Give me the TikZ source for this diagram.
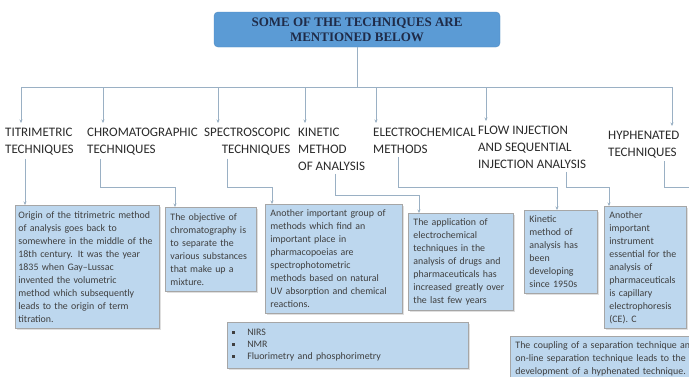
\documentclass[tikz,border=0pt]{standalone}
\usepackage{fontspec}
\setmainfont{Carlito}
\newfontfamily\titrefont{Liberation Serif}
\usetikzlibrary{arrows.meta,shadows}
\definecolor{bleuTitre}{HTML}{5B9BD5}
\definecolor{bleuBoite}{HTML}{BDD7EE}
\definecolor{bordBoite}{HTML}{A6A6A6}
\definecolor{trait}{HTML}{9AB0C4}
\definecolor{texteTitre}{HTML}{1F2B48}
\definecolor{texteGris}{HTML}{2A2A2A}
\begin{document}
\begin{tikzpicture}[x=1pt,y=-1pt]
			% Styles
			\tikzstyle{titre}=[draw=bleuTitre!90!black,fill=bleuTitre,rounded corners=4pt,text=texteTitre,font=\titrefont\bfseries\fontsize{13}{15}\selectfont,align=center,minimum width=286pt,minimum height=35pt,inner sep=0pt]
			\tikzstyle{etiquette}=[anchor=north west,inner sep=0pt,align=left,text=texteGris,font=\fontsize{13}{17}\selectfont]
			\tikzstyle{boite}=[anchor=north west,draw=bordBoite,fill=bleuBoite,line width=0.9pt,inner xsep=5pt,inner ysep=4pt,align=left,text=texteGris!90,font=\fontsize{9.9}{13}\selectfont,drop shadow={shadow xshift=1.2pt,shadow yshift=-1.2pt,opacity=.25}]
			\tikzstyle{lien}=[draw=trait,line width=0.9pt]
			\tikzstyle{fleche}=[lien,-{Stealth[length=3.5pt,width=3pt]}]
			% Niveaux (px)
			\def\Bus{87}
			\def\Coude{187}
			\def\CoudeB{195}
			% Cadre
			\useasboundingbox (0,0) rectangle (689,376);
			\fill[white] (0,0) rectangle (689,376);
			\clip (0,0) rectangle (689,376);
			% Titre
			\node[titre] (titre) at (357,29.5) {SOME OF THE TECHNIQUES ARE\\MENTIONED BELOW};
			% Etiquettes
			\node[etiquette] (tTitr) at (5,128) {TITRIMETRIC\\TECHNIQUES};
			\node[etiquette] (tChrom) at (87,128) {CHROMATOGRAPHIC\\TECHNIQUES};
			\node[etiquette,align=right] (tSpec) at (204,128) {SPECTROSCOPIC\\TECHNIQUES};
			\node[etiquette] (tKin) at (298,128) {KINETIC\\METHOD\\OF ANALYSIS};
			\node[etiquette] (tElec) at (373,128) {ELECTROCHEMICAL\\METHODS};
			\node[etiquette] (tFlow) at (478,126) {FLOW INJECTION\\AND SEQUENTIAL\\INJECTION ANALYSIS};
			\node[etiquette] (tHyph) at (608,131) {HYPHENATED\\TECHNIQUES};
			% Boites
			\node[boite,text width=138pt,inner xsep=3pt,minimum height=123pt] (dTitr) at (15,205) {Origin of the titrimetric method\\of analysis goes back to\\somewhere in the middle of the\\18th century. It was the year\\1835 when Gay–Lussac\\invented the volumetric\\method which subsequently\\leads to the origin of term\\titration.};
			\node[boite,text width=81pt,minimum height=84pt] (dChrom) at (165,207) {The objective of\\chromatography is\\to separate the\\various substances\\that make up a\\mixture.};
			\node[boite,text width=127pt,minimum height=109pt] (dSpec) at (265,204) {Another important group of\\methods which find an\\important place in\\pharmacopoeias are\\spectrophotometric\\methods based on natural\\UV absorption and chemical\\reactions.};
			\node[boite,text width=95pt,minimum height=97pt] (dKin) at (408,213) {The application of\\electrochemical\\techniques in the\\analysis of drugs and\\pharmaceuticals has\\increased greatly over\\the last few years};
			\node[boite,text width=63pt,minimum height=83pt] (dElec) at (524,210) {Kinetic\\method of\\analysis has\\been\\developing\\since 1950s};
			\node[boite,text width=72pt,minimum height=122pt] (dFlow) at (604,206) {Another\\important\\instrument\\essential for the\\analysis of\\pharmaceuticals\\is capillary\\electrophoresis\\(CE). C};
			\node[boite,text width=231pt,minimum height=46pt,font=\fontsize{9.9}{12}\selectfont] (dListe) at (227,322) {\rule[2.2pt]{2.8pt}{2.8pt}\hspace{12pt}NIRS\\\rule[2.2pt]{2.8pt}{2.8pt}\hspace{12pt}NMR\\\rule[2.2pt]{2.8pt}{2.8pt}\hspace{12pt}Fluorimetry and phosphorimetry};
			\node[boite,text width=200pt,inner ysep=5pt] (dHyph) at (510,336) {The coupling of a separation technique and\\on-line separation technique leads to the\\development of a hyphenated technique.};
			% Arcs du haut
			\coordinate (b1) at (21,\Bus);
			\coordinate (b2) at (103,\Bus);
			\coordinate (b3) at (218,\Bus);
			\coordinate (b4) at (305,\Bus);
			\coordinate (b5) at (376,\Bus);
			\coordinate (b6) at (486,\Bus);
			\coordinate (b7) at (672,\Bus);
			\draw[lien] (titre.south) -- (titre.south |- b1);
			\draw[lien] (b1) -- (b7);
			\foreach \b/\t in {b1/tTitr,b2/tChrom,b3/tSpec,b4/tKin,b5/tElec,b6/tFlow,b7/tHyph}
				\draw[fleche,shorten >=5pt] (\b) -- (\b |- \t.north);
			% Arcs du bas
			\coordinate (niv) at (0,\Coude);
			\coordinate (nivB) at (0,\CoudeB);
			\draw[fleche] ([xshift=20pt,yshift=-3pt]tTitr.south west) -- ([xshift=10pt]dTitr.north west);
			\foreach \t/\d/\xa/\xb/\n in {tChrom/dChrom/13/10/niv,tSpec/dSpec/23/7/niv,tKin/dKin/37/11/nivB,tElec/dElec/25/33/niv,tFlow/dFlow/88/5/niv}{
				\coordinate (dep) at ([xshift=\xa pt,yshift=-3pt]\t.south west);
				\coordinate (arr) at ([xshift=\xb pt]\d.north west);
				\draw[fleche] (dep) |- (arr |- \n) -- (arr);
			}
			\coordinate (depH) at ([xshift=56pt,yshift=-3pt]tHyph.south west);
			\coordinate (finH) at (695,\Coude);
			\draw[lien] (depH) |- (finH);
		\end{tikzpicture}
\end{document}
